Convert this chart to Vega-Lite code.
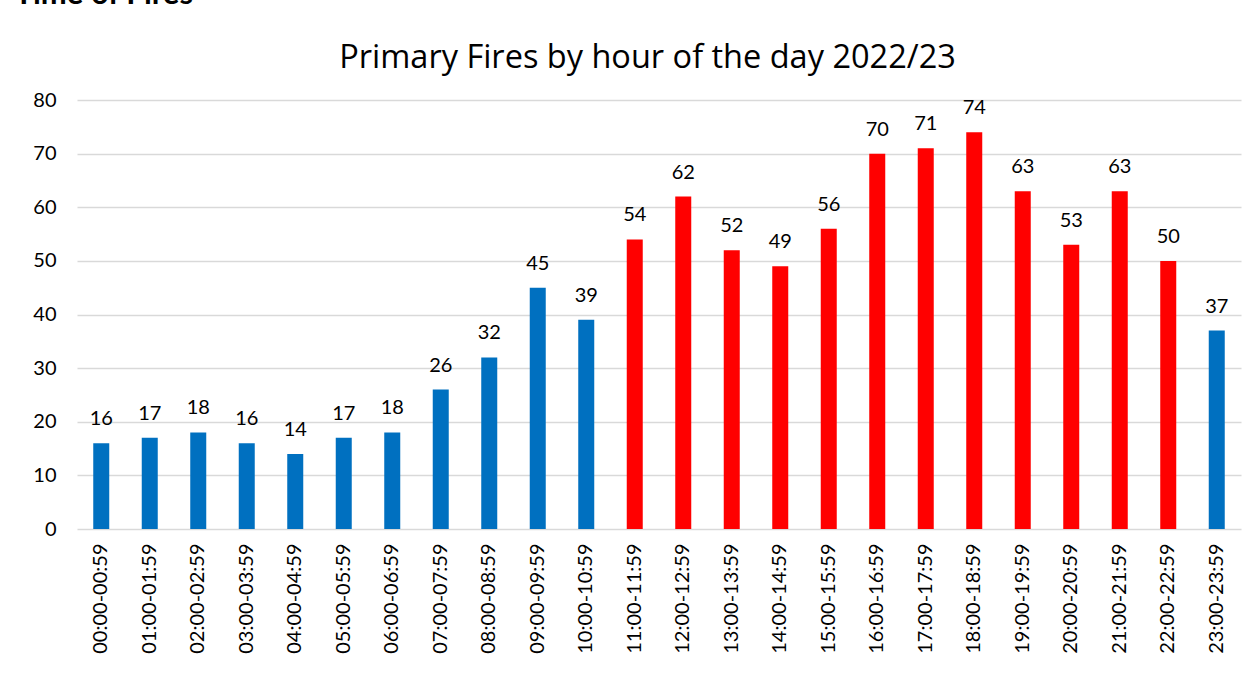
{
  "$schema": "https://vega.github.io/schema/vega-lite/v6.json",
  "width": 1164,
  "height": 429,
  "autosize": {"type": "none"},
  "padding": {"left": 77, "top": 100, "right": 13, "bottom": 160},
  "background": "white",
  "config": {"view": {"stroke": null}, "font": "Lato"},
  "data": {
    "values": [
      {"hour": "00:00-00:59", "fires": 16, "period": "other"},
      {"hour": "01:00-01:59", "fires": 17, "period": "other"},
      {"hour": "02:00-02:59", "fires": 18, "period": "other"},
      {"hour": "03:00-03:59", "fires": 16, "period": "other"},
      {"hour": "04:00-04:59", "fires": 14, "period": "other"},
      {"hour": "05:00-05:59", "fires": 17, "period": "other"},
      {"hour": "06:00-06:59", "fires": 18, "period": "other"},
      {"hour": "07:00-07:59", "fires": 26, "period": "other"},
      {"hour": "08:00-08:59", "fires": 32, "period": "other"},
      {"hour": "09:00-09:59", "fires": 45, "period": "other"},
      {"hour": "10:00-10:59", "fires": 39, "period": "other"},
      {"hour": "11:00-11:59", "fires": 54, "period": "peak"},
      {"hour": "12:00-12:59", "fires": 62, "period": "peak"},
      {"hour": "13:00-13:59", "fires": 52, "period": "peak"},
      {"hour": "14:00-14:59", "fires": 49, "period": "peak"},
      {"hour": "15:00-15:59", "fires": 56, "period": "peak"},
      {"hour": "16:00-16:59", "fires": 70, "period": "peak"},
      {"hour": "17:00-17:59", "fires": 71, "period": "peak"},
      {"hour": "18:00-18:59", "fires": 74, "period": "peak"},
      {"hour": "19:00-19:59", "fires": 63, "period": "peak"},
      {"hour": "20:00-20:59", "fires": 53, "period": "peak"},
      {"hour": "21:00-21:59", "fires": 63, "period": "peak"},
      {"hour": "22:00-22:59", "fires": 50, "period": "peak"},
      {"hour": "23:00-23:59", "fires": 37, "period": "other"}
    ]
  },
  "resolve": {"axis": {"x": "independent"}},
  "layer": [
    {
      "mark": {"type": "bar"},
      "encoding": {
        "x": {
          "field": "hour",
          "type": "ordinal",
          "sort": null,
          "scale": {"paddingInner": 0.67, "paddingOuter": 0.335},
          "axis": {
            "title": null,
            "labelAngle": -90,
            "labelFont": "Lato",
            "labelFontSize": 20,
            "labelColor": "#000000",
            "labelPadding": 14,
            "ticks": false,
            "domain": false,
            "grid": false
          }
        },
        "y": {
          "field": "fires",
          "type": "quantitative",
          "scale": {"domain": [0, 80], "nice": false},
          "axis": {
            "values": [0, 10, 20, 30, 40, 50, 60, 70, 80],
            "title": "Time of Fires",
            "titleAngle": 0,
            "titleX": -63,
            "titleY": -97,
            "titleAlign": "left",
            "titleBaseline": "alphabetic",
            "titleFont": "Lato",
            "titleFontSize": 31,
            "titleFontWeight": "bold",
            "titleColor": "#000000",
            "labelFont": "Lato",
            "labelFontSize": 20,
            "labelColor": "#000000",
            "labelPadding": 21,
            "ticks": false,
            "domain": false,
            "grid": true,
            "gridColor": "#d9d9d9",
            "gridWidth": 1.5
          }
        },
        "color": {
          "field": "period",
          "type": "nominal",
          "scale": {"domain": ["other", "peak"], "range": ["#0070C0", "#FF0000"]},
          "legend": null
        }
      }
    },
    {
      "mark": {"type": "text", "baseline": "alphabetic", "dy": -18, "fontSize": 20, "font": "Lato", "color": "#000000"},
      "encoding": {
        "x": {
          "field": "hour",
          "type": "ordinal",
          "sort": null,
          "axis": {
            "orient": "top",
            "labels": false,
            "ticks": false,
            "domain": false,
            "grid": false,
            "title": "Primary Fires by hour of the day 2022/23",
            "titleX": 570,
            "titleY": -33,
            "titleAlign": "center",
            "titleAnchor": null,
            "titleBaseline": "alphabetic",
            "titleFont": "Open Sans",
            "titleFontSize": 32.5,
            "titleFontWeight": "normal",
            "titleColor": "#000000"
          }
        },
        "y": {"field": "fires", "type": "quantitative"},
        "text": {"field": "fires", "type": "quantitative"}
      }
    }
  ]
}
